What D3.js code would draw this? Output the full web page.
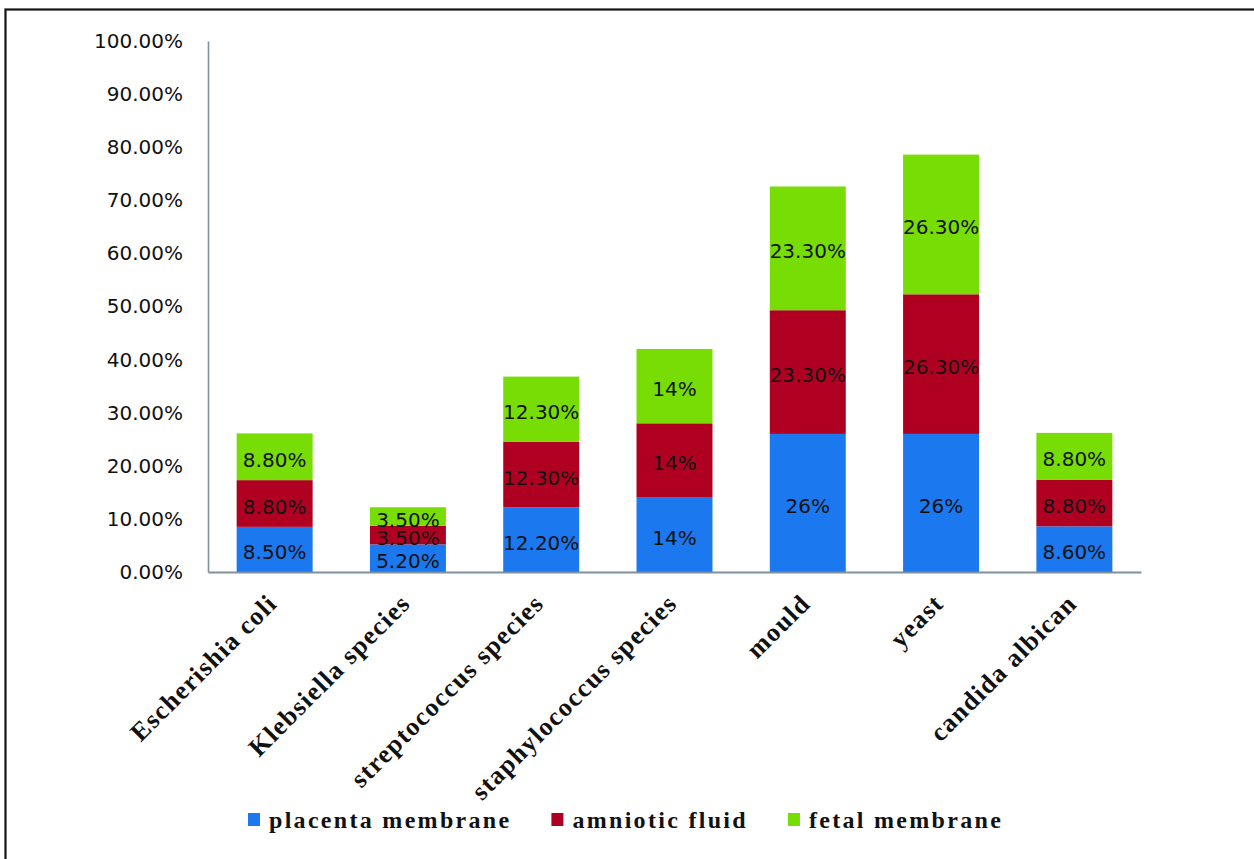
<!DOCTYPE html>
<html>
<head>
<meta charset="utf-8">
<script src="https://cdn.jsdelivr.net/npm/d3@7"></script>
<style>
  html, body { margin: 0; padding: 0; background: #fff; }
  svg { display: block; }
</style>
</head>
<body>
<svg id="chart" width="1254" height="859"></svg>
<script>
// Organisms isolated, in display order
const categories = [
  "Escherishia coli",
  "Klebsiella species",
  "streptococcus species",
  "staphylococcus species",
  "mould",
  "yeast",
  "candida albican"
];

// Series names (stack order, bottom to top)
const seriesNames = ["placenta membrane", "amniotic fluid", "fetal membrane"];

// Percent of samples per site
const placentaMembrane = [8.5, 5.2, 12.2, 14, 26, 26, 8.6];
const amnioticFluid    = [8.8, 3.5, 12.3, 14, 23.3, 26.3, 8.8];
const fetalMembrane    = [8.8, 3.5, 12.3, 14, 23.3, 26.3, 8.8];

// Y axis tick values (percent)
const yTicks = [0, 10, 20, 30, 40, 50, 60, 70, 80, 90, 100];

const seriesColors = ["#1b78ef", "#b00022", "#77dd05"];

const svg = d3.select("#chart");

// Outer frame
svg.append("rect")
  .attr("x", 5.5).attr("y", 9.5)
  .attr("width", 1400).attr("height", 1000)
  .attr("fill", "none")
  .attr("stroke", "#151515")
  .attr("stroke-width", 2.2);

const plot = { left: 208, right: 1141, top: 41, bottom: 572 };

const x = d3.scaleBand()
  .domain(categories)
  .range([plot.left, plot.right])
  .paddingInner(0.43)
  .paddingOuter(0.215);

const y = d3.scaleLinear()
  .domain([0, 100])
  .range([plot.bottom, plot.top]);

// Build rows for stacking
const rows = categories.map((c, i) => ({
  category: c,
  [seriesNames[0]]: placentaMembrane[i],
  [seriesNames[1]]: amnioticFluid[i],
  [seriesNames[2]]: fetalMembrane[i]
}));

const stacked = d3.stack().keys(seriesNames)(rows);

// Y axis: labels only, no tick marks
const yAxis = d3.axisLeft(y)
  .tickValues(yTicks)
  .tickSize(0)
  .tickPadding(25)
  .tickFormat(d => d.toFixed(2) + "%");

const gy = svg.append("g")
  .attr("transform", `translate(${plot.left},0)`)
  .call(yAxis);
gy.select(".domain")
  .attr("stroke", "#7d929c")
  .attr("stroke-width", 1.6);
gy.selectAll("text")
  .attr("font-family", "'DejaVu Sans', sans-serif")
  .attr("font-size", 20)
  .attr("fill", "#111");

// Bars
const layers = svg.append("g").selectAll("g")
  .data(stacked)
  .join("g")
  .attr("fill", (d, i) => seriesColors[i]);

layers.selectAll("rect")
  .data(d => d)
  .join("rect")
  .attr("x", d => x(d.data.category))
  .attr("width", x.bandwidth())
  .attr("y", d => y(d[1]))
  .attr("height", d => y(d[0]) - y(d[1]));

// Segment value labels
const fmtLabel = v => Number.isInteger(v) ? v + "%" : v.toFixed(2) + "%";

layers.selectAll("text")
  .data(d => d.map(s => ({ s, key: d.key })))
  .join("text")
  .attr("x", d => x(d.s.data.category) + x.bandwidth() / 2)
  .attr("y", d => (y(d.s[0]) + y(d.s[1])) / 2 + 3)
  .attr("dy", "0.35em")
  .attr("text-anchor", "middle")
  .attr("font-family", "'DejaVu Sans', sans-serif")
  .attr("font-size", 20)
  .attr("fill", "#111")
  .text(d => fmtLabel(d.s.data[d.key]));

// X axis baseline
const xAxis = d3.axisBottom(x).tickSize(0).tickFormat("");
const gx = svg.append("g")
  .attr("transform", `translate(0,${plot.bottom})`)
  .call(xAxis);
gx.select(".domain")
  .attr("stroke", "#7d929c")
  .attr("stroke-width", 2);

// Rotated category labels
svg.append("g").selectAll("text")
  .data(categories)
  .join("text")
  .attr("transform", d => `translate(${x(d) + x.bandwidth() / 2 + 4},${plot.bottom + 33}) rotate(-45)`)
  .attr("text-anchor", "end")
  .attr("font-family", "'Liberation Serif', 'Times New Roman', serif")
  .attr("font-weight", "bold")
  .attr("font-size", 26)
  .attr("letter-spacing", 1.3)
  .attr("fill", "#111")
  .text(d => d);

// Legend
const legend = svg.append("g");
let lx = 248;
seriesNames.forEach((name, i) => {
  legend.append("rect")
    .attr("x", lx).attr("y", 813)
    .attr("width", 12).attr("height", 13)
    .attr("fill", seriesColors[i]);
  const t = legend.append("text")
    .attr("x", lx + 21).attr("y", 828)
    .attr("font-family", "'Liberation Serif', 'Times New Roman', serif")
    .attr("font-weight", "bold")
    .attr("font-size", 24)
    .attr("letter-spacing", 2.3)
    .attr("fill", "#111")
    .text(name);
  lx += 21 + t.node().getComputedTextLength() + 40;
});
</script>
</body>
</html>
